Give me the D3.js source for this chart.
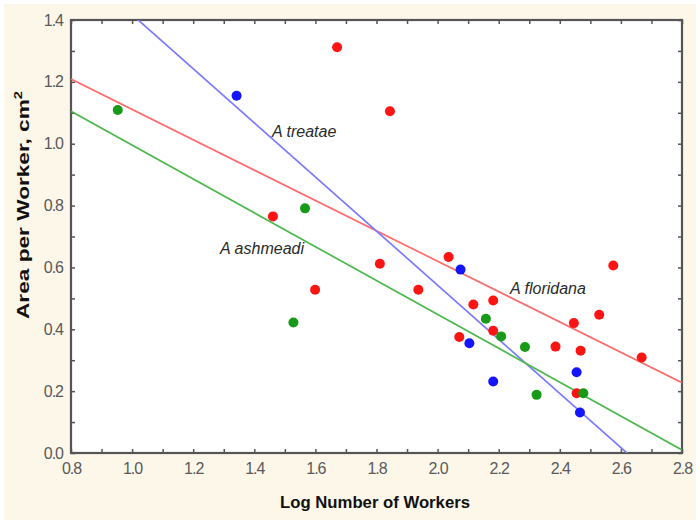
<!DOCTYPE html>
<html><head><meta charset="utf-8">
<script src="https://cdn.jsdelivr.net/npm/d3@7"></script>
<style>
html,body{margin:0;padding:0;background:#fff;}
text{font-family:"Liberation Sans",Arial,sans-serif;}
</style></head>
<body><svg id="c" width="700" height="525"></svg>
<script>
// ---- data ----
const xTicks = [0.8,1.0,1.2,1.4,1.6,1.8,2.0,2.2,2.4,2.6,2.8];
const yTicks = [0.0,0.2,0.4,0.6,0.8,1.0,1.2,1.4];
const species = ["A floridana","A treatae","A ashmeadi"];
const speciesLabels = ["A floridana","A treatae","A ashmeadi"];
const labelX = [2.237, 1.458, 1.288];
const labelY = [0.515, 1.021, 0.642];
const fitIntercept = [1.602, 2.2925, 1.543];
const fitSlope = [-0.491, -0.875, -0.5475];
const floridanaX = [1.671,1.461,1.844,1.599,1.811,2.036,1.937,2.117,2.182,2.071,2.182,2.386,2.446,2.468,2.529,2.575,2.668,2.455];
const floridanaY = [1.312,0.765,1.105,0.528,0.612,0.634,0.528,0.480,0.493,0.375,0.395,0.344,0.420,0.331,0.447,0.606,0.309,0.193];
const treataeX = [1.342,2.075,2.104,2.182,2.455,2.466];
const treataeY = [1.155,0.593,0.355,0.231,0.261,0.131];
const ashmeadiX = [0.953,1.566,1.528,2.158,2.208,2.286,2.324,2.477];
const ashmeadiY = [1.109,0.791,0.422,0.434,0.377,0.343,0.188,0.193];

const pointColors = ["#ff1414","#1414ff","#179a17"];
const lineColors = ["#ff6a6a","#7a7aff","#4cb84c"];

const svg = d3.select("#c");
const L=71, R=682, T=20, B=453;
const x = d3.scaleLinear().domain([0.8,2.8]).range([L,R]);
const y = d3.scaleLinear().domain([0,1.4]).range([B,T]);

svg.append("rect").attr("x",4).attr("y",4).attr("width",692).attr("height",516).attr("fill","#fdf7ea");
svg.append("rect").attr("x",L).attr("y",T).attr("width",R-L).attr("height",B-T).attr("fill","#fff");

svg.append("defs").append("clipPath").attr("id","clip").append("rect")
  .attr("x",L).attr("y",T).attr("width",R-L).attr("height",B-T);

const minorX = d3.range(8,29).map(d=>d/10);
const minorY = d3.range(0,15).map(d=>d/10);
const isMajor = (v,list)=>list.some(t=>Math.abs(t-v)<1e-6);
const fmt = d3.format(".1f");

function styleAxis(g){
  g.select(".domain").remove();
  g.selectAll(".tick line").attr("stroke","#555").attr("stroke-width",1.5);
  g.selectAll(".tick text").attr("fill","#5a5a5a").style("font-size","16px").style("letter-spacing","-1px");
}
const gxb = svg.append("g").attr("transform",`translate(0,${B})`)
  .call(d3.axisBottom(x).tickValues(minorX).tickSize(-4).tickPadding(10).tickFormat(v=>isMajor(v,xTicks)?fmt(v):""));
styleAxis(gxb);
const gxt = svg.append("g").attr("transform",`translate(0,${T})`)
  .call(d3.axisTop(x).tickValues(minorX).tickSize(-4).tickFormat(""));
styleAxis(gxt);
const gyl = svg.append("g").attr("transform",`translate(${L},0)`)
  .call(d3.axisLeft(y).tickValues(minorY).tickSize(-4).tickPadding(8).tickFormat(v=>isMajor(v,yTicks)?fmt(v):""));
styleAxis(gyl);
const gyr = svg.append("g").attr("transform",`translate(${R},0)`)
  .call(d3.axisRight(y).tickValues(minorY).tickSize(-4).tickFormat(""));
styleAxis(gyr);

// frame
svg.append("rect").attr("x",L).attr("y",T).attr("width",R-L).attr("height",B-T)
  .attr("fill","none").attr("stroke","#555").attr("stroke-width",2.2);

// fit lines
const dom = x.domain();
const lg = svg.append("g").attr("clip-path","url(#clip)");
species.forEach((s,i)=>{
  const pts = dom.map(v=>[v, fitIntercept[i]+fitSlope[i]*v]);
  lg.append("path").attr("d",d3.line().x(d=>x(d[0])).y(d=>y(d[1]))(pts))
    .attr("fill","none").attr("stroke",lineColors[i]).attr("stroke-width",1.7);
});

// points
const sets = [[floridanaX,floridanaY],[treataeX,treataeY],[ashmeadiX,ashmeadiY]];
sets.forEach((st,i)=>{
  svg.append("g").selectAll("circle").data(d3.range(st[0].length)).join("circle")
    .attr("cx",j=>x(st[0][j])).attr("cy",j=>y(st[1][j])).attr("r",5)
    .attr("fill",pointColors[i]);
});

// species labels
species.forEach((s,i)=>{
  svg.append("text").attr("x",x(labelX[i])).attr("y",y(labelY[i]))
    .attr("fill","#2a2a2a").style("font-size","16px").style("font-style","italic")
    .style("letter-spacing","0px").text(speciesLabels[i]);
});

// axis titles
svg.append("text").attr("x",375).attr("y",508).attr("text-anchor","middle")
  .attr("fill","#111").style("font-size","17px").style("font-weight","bold")
  .attr("textLength",190).attr("lengthAdjust","spacingAndGlyphs")
  .text("Log Number of Workers");
const yt = svg.append("text").attr("transform","translate(29,205) rotate(-90)")
  .attr("text-anchor","middle").attr("fill","#111").style("font-size","17px").style("font-weight","bold")
  .attr("textLength",228).attr("lengthAdjust","spacingAndGlyphs");
yt.append("tspan").text("Area per Worker, cm");
yt.append("tspan").attr("dy",-7).style("font-size","11px").text("2");
</script></body></html>
